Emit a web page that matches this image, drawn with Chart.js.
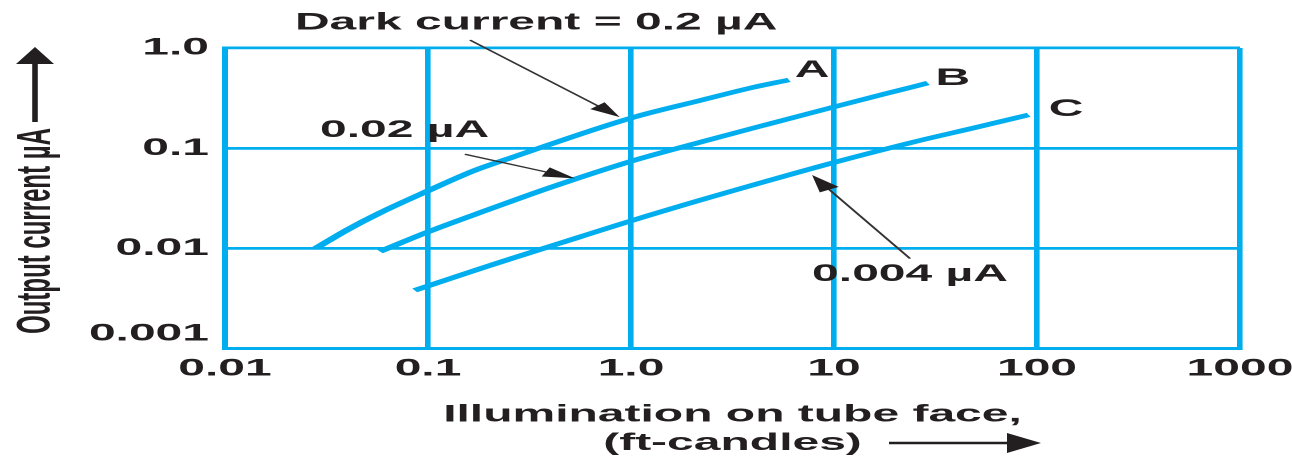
<!DOCTYPE html>
<html lang="en">
<head>
<meta charset="UTF-8">
<title>Output current vs illumination</title>
<script src="https://cdn.jsdelivr.net/npm/chart.js@4.4.1/dist/chart.umd.min.js"></script>
<style>
  html, body { margin: 0; padding: 0; background: #fff; overflow: hidden; }
  /* the figure is stretched sideways, so draw it at half width and scale it up */
  .stretch { width: 646px; height: 458px; transform: scaleX(2); transform-origin: 0 0; }
</style>
</head>
<body>
<div class="stretch"><canvas id="chart" width="646" height="458"></canvas></div>
<script>
// axis ticks
const xTicks = [0.01, 0.1, 1, 10, 100, 1000];
const xTickLabels = ['0.01', '0.1', '1.0', '10', '100', '1000'];
const yTicks = [0.001, 0.01, 0.1, 1];
const yTickLabels = ['0.001', '0.01', '0.1', '1.0'];

// curves (ft-candles, uA)
const curveNames = ['A', 'B', 'C'];
const aX = [0.028, 0.04, 0.058, 0.1, 0.17, 0.26, 1.0, 2.2, 3.9, 6.0];
const aY = [0.01, 0.0153, 0.0226, 0.0375, 0.06, 0.081, 0.2, 0.3, 0.4, 0.48];
const bX = [0.058, 0.1, 0.2, 0.4, 1.0, 2.2, 4.7, 10, 17.4, 29];
const bY = [0.0093, 0.0146, 0.0245, 0.0405, 0.074, 0.115, 0.173, 0.258, 0.344, 0.447];
const cX = [0.086, 0.2, 0.45, 1.0, 2.2, 4.7, 10, 25, 50, 91];
const cY = [0.0038, 0.0067, 0.0113, 0.0188, 0.0303, 0.0471, 0.072, 0.116, 0.161, 0.215];

const cyan = '#00aeef';
const ink = '#231f20';
const fontFamily = '"Liberation Sans", Arial, sans-serif';

const toPoints = (xs, ys) => xs.map((v, i) => ({ x: v, y: ys[i] }));

// arrow with a filled head, drawn tail -> tip
function arrow(ctx, x1, y1, x2, y2, len, half, width) {
    const ang = Math.atan2(y2 - y1, x2 - x1);
    ctx.lineWidth = width;
    ctx.beginPath();
    ctx.moveTo(x1, y1);
    ctx.lineTo(x2 - Math.cos(ang) * len * 0.8, y2 - Math.sin(ang) * len * 0.8);
    ctx.stroke();
    ctx.save();
    ctx.translate(x2, y2);
    ctx.rotate(ang);
    ctx.beginPath();
    ctx.moveTo(0, 0);
    ctx.lineTo(-len, -half);
    ctx.lineTo(-len, half);
    ctx.closePath();
    ctx.fill();
    ctx.restore();
}

// labels, pointer arrows and the y title
const notes = {
    id: 'notes',
    afterDraw(chart) {
        const { ctx, scales: { x, y } } = chart;
        const X = v => x.getPixelForValue(v);
        const Y = v => y.getPixelForValue(v);
        ctx.save();
        ctx.fillStyle = ink;
        ctx.strokeStyle = ink;
        ctx.font = 'bold 24px ' + fontFamily;
        ctx.textBaseline = 'middle';

        // curve letters
        ctx.textAlign = 'center';
        ctx.fillText(curveNames[0], X(7.8), Y(0.6));
        ctx.fillText(curveNames[1], X(38.5), Y(0.5));
        ctx.fillText(curveNames[2], X(139), Y(0.245));

        // dark current notes
        ctx.textAlign = 'left';
        ctx.fillText('Dark current = 0.2 \u00b5A', X(0.0221), Y(1.78));
        ctx.fillText('0.02 \u00b5A', X(0.0294), Y(0.151));
        ctx.fillText('0.004 \u00b5A', X(7.8), Y(0.0055));

        ctx.strokeStyle = '#333';
        arrow(ctx, X(0.161), Y(1.2), X(0.88), Y(0.204), 16, 5, 1.3);
        arrow(ctx, X(0.152), Y(0.087), X(0.53), Y(0.05), 16, 5, 1.3);
        arrow(ctx, X(23.7), Y(0.0079), X(7.8), Y(0.054), 17, 5.5, 1.3);

        // axis arrows
        ctx.strokeStyle = ink;
        arrow(ctx, 17.5, 122, 17.5, 47, 17, 9.5, 2.8);
        arrow(ctx, 444.5, 443, 520.5, 443, 17, 10, 2.5);

        // y title, reads bottom to top
        ctx.translate(18.5, 231);
        ctx.rotate(-Math.PI / 2);
        ctx.textAlign = 'center';
        ctx.fillText('Output current \u00b5A', 0, 0);
        ctx.restore();
    }
};

const ctx = document.getElementById('chart').getContext('2d');
new Chart(ctx, {
    type: 'line',
    data: {
        datasets: [
            { label: curveNames[0], data: toPoints(aX, aY) },
            { label: curveNames[1], data: toPoints(bX, bY) },
            { label: curveNames[2], data: toPoints(cX, cY) }
        ]
    },
    options: {
        responsive: false,
        animation: false,
        devicePixelRatio: 2,
        layout: { padding: { left: 0, right: 26, top: 48, bottom: 0 } },
        elements: {
            line: { borderColor: cyan, borderWidth: 4.5, cubicInterpolationMode: 'monotone', fill: false, borderCapStyle: 'butt' },
            point: { radius: 0 }
        },
        plugins: {
            legend: { display: false },
            tooltip: { enabled: false }
        },
        scales: {
            x: {
                type: 'logarithmic',
                min: 0.01,
                max: 1000,
                afterBuildTicks: s => { s.ticks = xTicks.map(v => ({ value: v })); },
                afterFit: s => { s.height = 109.5; s.paddingLeft = 0; s.paddingRight = 0; },
                grid: { color: cyan, lineWidth: 2.8, drawTicks: false },
                border: { display: true, color: cyan, width: 3 },
                ticks: {
                    color: ink,
                    padding: 6,
                    autoSkip: false,
                    maxRotation: 0,
                    font: { family: fontFamily, size: 24, weight: 'bold', lineHeight: 1.2 },
                    callback: (v, i) => xTickLabels[i]
                },
                title: {
                    display: true,
                    text: ['Illumination on tube face,', '(ft-candles)'],
                    color: ink,
                    padding: { top: 0, bottom: 0 },
                    font: { family: fontFamily, size: 24, weight: 'bold', lineHeight: 1.2 }
                }
            },
            y: {
                type: 'logarithmic',
                min: 0.001,
                max: 1,
                afterBuildTicks: s => { s.ticks = yTicks.map(v => ({ value: v })); },
                afterFit: s => { s.width = 112.5; },
                grid: { color: cyan, lineWidth: 2.8, drawTicks: false },
                border: { display: true, color: cyan, width: 3 },
                ticks: {
                    color: ink,
                    padding: 8,
                    font: { family: fontFamily, size: 24, weight: 'bold', lineHeight: 1.2 },
                    // bottom label sits a little above its line
                    callback: (v, i) => i === 0 ? [yTickLabels[i], ''] : yTickLabels[i]
                }
            }
        }
    },
    plugins: [notes]
});
</script>
</body>
</html>
